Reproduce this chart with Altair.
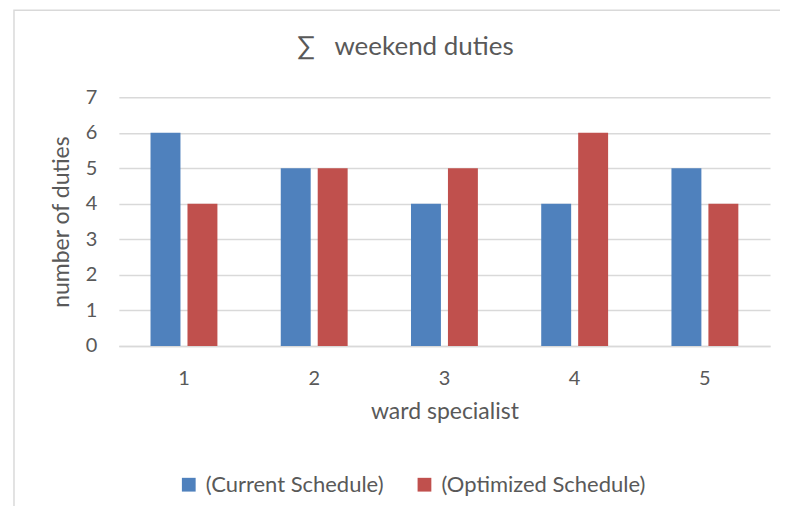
import altair as alt
import pandas as pd

specialists = ["1", "2", "3", "4", "5"]
current = [6, 5, 4, 4, 5]
optimized = [4, 5, 5, 6, 4]
series_names = ["(Current Schedule)", "(Optimized Schedule)"]
colors = ["#4F81BD", "#C0504D"]
chart_title = "∑\u00a0\u00a0\u00a0weekend duties"

rows = []
for i, s in enumerate(specialists):
    rows.append({"ward": s, "series": series_names[0], "duties": current[i]})
    rows.append({"ward": s, "series": series_names[1], "duties": optimized[i]})
df = pd.DataFrame(rows)

FONT = "Lato"
GRAY = "#595959"
W, H = 652, 249

bars = alt.Chart(df).mark_bar().encode(
    x=alt.X("ward:N", sort=specialists,
            scale=alt.Scale(paddingInner=0, paddingOuter=0),
            axis=alt.Axis(title="ward specialist", labelAngle=0, ticks=False,
                          domainColor="#D9D9D9", domainWidth=1.5,
                          labelPadding=23, titlePadding=12,
                          labelFontSize=20, titleFontSize=23,
                          labelColor=GRAY, titleColor=GRAY,
                          labelFont=FONT, titleFont=FONT, titleFontWeight="normal")),
    xOffset=alt.XOffset("series:N", sort=series_names,
                        scale=alt.Scale(paddingInner=0.19, paddingOuter=0.857)),
    y=alt.Y("duties:Q",
            scale=alt.Scale(domain=[0, 7], nice=False),
            axis=alt.Axis(title="number of duties", values=list(range(8)),
                          domain=False, ticks=False, grid=True,
                          gridColor="#D9D9D9", gridWidth=1.5,
                          labelPadding=22, titlePadding=12,
                          labelFontSize=20, titleFontSize=23,
                          labelColor=GRAY, titleColor=GRAY,
                          labelFont=FONT, titleFont=FONT, titleFontWeight="normal")),
    color=alt.Color("series:N", sort=series_names,
                    scale=alt.Scale(domain=series_names, range=colors),
                    legend=alt.Legend(title=None, orient="none", direction="horizontal",
                                      legendX=59, legendY=377,
                                      symbolType="square", symbolSize=190,
                                      symbolStrokeWidth=0, labelLimit=400,
                                      labelFontSize=22, labelFont=FONT, labelColor=GRAY,
                                      columnPadding=29, labelOffset=6, padding=0)),
)

one = pd.DataFrame({"t": [chart_title]})

border = alt.Chart(one).mark_rect(
    fill="transparent", stroke="#D9D9D9", strokeWidth=1.5
).encode(
    x=alt.value(-105), x2=alt.value(800), y=alt.value(-87), y2=alt.value(500)
)

title = alt.Chart(one).mark_text(
    font=FONT, fontSize=26, color=GRAY, baseline="middle", align="center"
).encode(
    text="t:N", x=alt.value(287), y=alt.value(-50)
)

chart = alt.layer(border, bars, title).properties(
    width=W, height=H,
    autosize=alt.AutoSizeParams(type="none"),
    padding={"left": 111, "top": 89, "right": 10, "bottom": 160},
).configure_view(stroke=None)

chart.save("out.html", embed_options={"renderer": "svg", "actions": False})
